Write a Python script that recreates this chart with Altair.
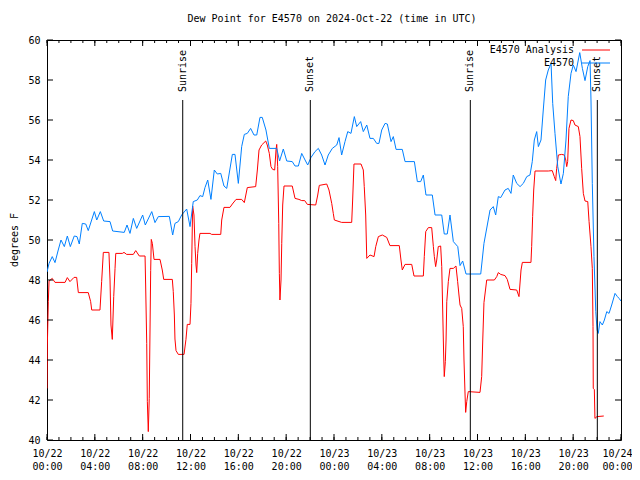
import altair as alt
import pandas as pd

# ---------------- data ----------------
title_text = "Dew Point for E4570 on 2024-Oct-22 (time in UTC)"
y_title = "degrees F"
series_names = ["E4570 Analysis", "E4570"]
series_colors = ["#ff0000", "#0080ff"]

# hours since 2024-10-22 00:00 UTC
analysis_hours = [
    0.0, 0.03, 0.11, 0.17, 0.44, 0.67, 1.51, 1.70, 1.92, 2.26,
    2.48, 2.62, 3.45, 3.65, 3.74, 4.43, 4.57, 4.71, 5.18, 5.27,
    5.35, 5.46, 5.58, 5.69, 5.75, 6.30, 6.44, 6.66, 7.22, 7.42,
    7.72, 8.20, 8.25, 8.34, 8.39, 8.47, 8.55, 8.61, 8.67, 8.72,
    8.81, 8.95, 9.45, 9.64, 9.76, 10.48, 10.56, 10.65, 10.70, 10.79,
    10.98, 11.46, 11.62, 11.73, 11.96, 12.04, 12.10, 12.18, 12.29, 12.38,
    12.46, 12.52, 12.60, 12.71, 12.79, 13.63, 13.77, 14.53, 14.61, 14.80,
    15.30, 15.50, 15.81, 16.28, 16.50, 16.75, 17.45, 17.59, 17.73, 17.95,
    18.29, 18.42, 18.59, 18.73, 18.87, 19.04, 19.15, 19.21, 19.29, 19.38,
    19.43, 19.48, 19.57, 19.63, 19.71, 19.82, 20.51, 20.74, 21.07, 21.30,
    21.55, 21.77, 22.47, 22.64, 22.77, 23.39, 23.58, 23.81, 23.94, 24.03,
    24.64, 25.48, 25.56, 25.67, 26.26, 26.45, 26.53, 26.65, 26.74, 27.01,
    27.35, 27.49, 27.71, 28.04, 28.41, 28.68, 29.46, 29.60, 29.71, 29.94,
    30.50, 30.69, 31.47, 31.55, 31.67, 31.89, 32.17, 32.31, 32.39, 32.50,
    32.59, 32.72, 32.92, 33.01, 33.09, 33.17, 33.22, 33.31, 33.37, 33.43,
    33.56, 33.70, 33.98, 34.20, 34.34, 34.45, 34.54, 34.68, 34.81, 34.87,
    34.96, 35.01, 35.10, 35.23, 36.21, 36.35, 36.44, 36.54, 36.77, 37.41,
    37.61, 37.74, 37.94, 38.30, 38.49, 38.72, 39.28, 39.47, 39.64, 39.75,
    40.47, 40.53, 40.61, 40.70, 40.81, 41.92, 42.25, 42.42, 42.54, 42.62,
    42.76, 43.04, 43.26, 43.38, 43.46, 43.54, 43.65, 43.82, 44.01, 44.15,
    44.43, 44.57, 44.71, 44.85, 44.99, 45.22, 45.33, 45.49, 45.60, 45.66,
    45.68, 45.77, 45.82, 45.99, 46.56,
]
analysis_vals = [
    42.58, 44.75, 46.92, 47.95, 48.08, 47.88, 47.88, 48.12, 47.92, 48.13,
    48.13, 47.37, 47.37, 46.92, 46.5, 46.5, 47.92, 49.38, 49.38, 48.0,
    45.75, 45.03, 47.17, 48.58, 49.33, 49.33, 49.38, 49.28, 49.28, 49.47,
    49.2, 49.2, 47.75, 44.83, 41.92, 40.42, 42.08, 45.25, 48.47, 50.03,
    49.83, 49.03, 49.03, 48.5, 48.03, 48.03, 47.42, 46.25, 45.05, 44.47,
    44.28, 44.28, 45.03, 45.78, 45.78, 46.83, 48.83, 51.7, 51.25, 49.67,
    48.75, 48.37, 49.33, 50.0, 50.33, 50.33, 50.28, 50.28, 51.0, 51.63,
    51.63, 51.8, 52.03, 52.03, 51.87, 52.62, 52.67, 53.5, 54.5, 54.75,
    54.95, 54.75, 54.33, 53.67, 53.53, 53.5, 54.5, 54.78, 53.67, 50.83,
    48.33, 47.0, 48.0, 49.83, 51.75, 52.7, 52.7, 52.08, 52.03, 51.97,
    51.97, 51.78, 51.75, 52.25, 52.73, 52.8, 52.5, 51.83, 51.33, 51.0,
    50.88, 50.88, 52.0, 53.8, 53.8, 53.5, 52.67, 51.25, 49.08, 49.25,
    49.17, 49.67, 50.17, 50.25, 50.13, 49.72, 49.72, 49.0, 48.5, 48.78,
    48.78, 48.2, 48.2, 49.17, 50.42, 50.62, 50.62, 49.67, 49.17, 48.67,
    49.0, 49.67, 49.7, 48.67, 46.5, 44.25, 43.17, 43.92, 45.0, 46.92,
    47.92, 48.58, 48.58, 48.7, 47.92, 47.25, 46.75, 46.58, 45.67, 44.0,
    42.25, 41.38, 41.92, 42.42, 42.38, 43.17, 45.0, 46.87, 48.0, 48.0,
    48.17, 48.37, 48.28, 48.22, 48.03, 47.53, 47.5, 47.17, 48.5, 48.88,
    48.88, 49.67, 51.17, 52.5, 53.45, 53.45, 53.47, 53.17, 52.97, 53.58,
    54.25, 54.28, 54.25, 54.0, 53.67, 53.92, 55.58, 56.0, 55.97, 55.75,
    55.67, 55.17, 53.58, 52.33, 51.95, 51.92, 50.92, 49.67, 48.58, 45.67,
    42.58, 42.53, 41.08, 41.17, 41.2,
]

obs_hours = [
    0.0, 0.17, 0.44, 0.67, 0.94, 1.17, 1.45, 1.70, 1.95, 2.28,
    2.51, 2.70, 2.95, 3.24, 3.45, 3.96, 4.16, 4.46, 4.74, 5.27,
    5.49, 6.46, 6.69, 6.94, 7.22, 7.50, 8.00, 8.22, 8.76, 9.03,
    9.31, 10.23, 10.51, 10.70, 10.98, 11.26, 11.68, 11.96, 12.23, 12.57,
    12.79, 13.02, 13.21, 13.44, 13.71, 13.99, 14.24, 14.53, 14.80, 15.03,
    15.50, 15.72, 16.00, 16.28, 16.50, 16.75, 17.03, 17.31, 17.54, 17.81,
    18.00, 18.31, 18.59, 19.21, 19.45, 19.76, 20.05, 20.51, 20.74, 21.02,
    21.30, 21.58, 21.80, 22.08, 22.41, 22.69, 22.97, 23.25, 23.52, 23.86,
    24.23, 24.42, 24.64, 24.92, 25.15, 25.42, 25.70, 25.90, 26.23, 26.45,
    26.74, 27.01, 27.29, 27.57, 27.76, 27.99, 28.27, 28.46, 28.77, 28.96,
    29.19, 29.71, 29.94, 30.72, 30.97, 31.25, 31.47, 31.69, 32.22, 32.45,
    33.01, 33.22, 33.47, 33.70, 33.98, 34.35, 34.54, 34.76, 35.04, 36.27,
    36.54, 37.05, 37.32, 37.52, 37.74, 37.94, 38.30, 38.57, 38.80, 38.99,
    39.28, 39.56, 39.83, 40.12, 40.39, 40.58, 40.75, 40.95, 41.09, 41.31,
    41.50, 41.70, 41.92, 42.15, 42.29, 42.48, 42.71, 42.98, 43.18, 43.40,
    43.59, 43.82, 44.01, 44.24, 44.43, 44.55, 44.77, 44.99, 45.22, 45.41,
    45.49, 45.60, 45.74, 45.89, 46.00, 46.10, 46.24, 46.44, 46.61, 46.81,
    47.00, 47.22, 47.50, 47.70, 47.84, 48.0,
]
obs_vals = [
    48.4, 48.83, 49.17, 48.87, 49.5, 50.0, 49.67, 50.2, 49.67, 50.2,
    50.17, 49.8, 50.83, 50.8, 50.47, 51.42, 51.0, 51.42, 50.95, 50.92,
    50.45, 50.38, 50.75, 50.33, 51.08, 50.58, 51.25, 50.75, 51.42, 50.87,
    51.17, 51.18, 50.25, 50.83, 50.92, 51.25, 51.55, 50.67, 51.92, 52.0,
    52.22, 52.17, 52.62, 53.0, 52.03, 53.5, 53.3, 53.33, 52.7, 52.58,
    54.28, 54.28, 52.83, 54.67, 55.28, 55.33, 55.58, 55.25, 55.25, 56.13,
    56.13, 55.5, 54.58, 54.58, 53.95, 54.55, 53.95, 53.92, 53.7, 53.7,
    54.33, 54.0, 53.75, 54.13, 54.42, 54.58, 54.25, 53.75, 54.25, 54.58,
    54.75, 55.12, 54.25, 54.92, 55.42, 55.33, 56.17, 55.67, 55.92, 55.42,
    55.75, 55.08, 55.08, 54.83, 54.83, 55.5, 55.83, 55.8, 54.92, 55.17,
    54.53, 54.53, 53.92, 53.92, 52.92, 52.92, 53.25, 52.25, 52.25, 51.25,
    51.25, 50.3, 50.3, 51.25, 49.92, 49.67, 48.72, 48.95, 48.3, 48.3,
    49.83, 51.5, 51.67, 51.25, 52.17, 52.12, 52.5, 52.58, 52.33, 53.25,
    52.83, 52.67, 52.83, 53.17, 53.25, 53.92, 55.0, 55.42, 54.67, 55.0,
    56.5, 58.0, 58.5, 58.83, 56.83, 55.33, 53.67, 52.8, 53.33, 55.0,
    57.17, 58.33, 58.75, 58.42, 59.0, 59.37, 58.58, 57.97, 58.67, 58.97,
    57.0, 52.83, 49.17, 46.42, 45.5, 45.33, 45.92, 45.75, 46.0, 46.42,
    46.33, 46.75, 47.33, 47.17, 47.08, 46.95,
]

sun_labels = ["Sunrise", "Sunset", "Sunrise", "Sunset"]
sun_hours = [11.35, 22.02, 35.40, 46.02]

x_label_hours = list(range(0, 49, 4))
x_minor_hours = list(range(0, 49, 1))
y_tick_values = list(range(40, 61, 2))

# ---------------- helpers ----------------
BASE_MS = pd.Timestamp("2024-10-22T00:00:00Z").value // 10**6


def to_ms(h):
    return int(BASE_MS + round(h * 3600000))


W, H = 574, 400
FONT = "DejaVu Sans Mono"
FS = 10
LAST_MS = to_ms(x_label_hours[-1])

xscale = alt.Scale(type="utc", domain=[to_ms(0), to_ms(48)], nice=False)
yscale = alt.Scale(domain=[40, 60], nice=False, zero=False)

# keep the final label inside the canvas: right-align it, nudged outward
x_axis = alt.Axis(
    values=[to_ms(h) for h in x_label_hours],
    labelExpr="[utcFormat(datum.value, '%m/%d'), utcFormat(datum.value, '%H:%M')]",
    ticks=False, domain=False, grid=False, title=None,
    labelFont=FONT, labelFontSize=FS, labelColor="black",
    labelPadding=8, labelLineHeight=13, labelBaseline="top",
    labelOverlap=False, labelFlush=False,
    labelAlign={"condition": {"test": f"+datum.value >= {LAST_MS}", "value": "right"},
                "value": "center"},
    labelOffset={"condition": {"test": f"+datum.value >= {LAST_MS}", "value": 11},
                 "value": 0},
)
y_axis = alt.Axis(
    values=y_tick_values, format="d",
    ticks=False, domain=False, grid=False, title=None,
    labelFont=FONT, labelFontSize=FS, labelColor="black",
    labelPadding=7, labelOverlap=False, labelFlush=False,
)


def X(field):
    return alt.X(field, type="temporal", scale=xscale, axis=x_axis)


def Y(field):
    return alt.Y(field, type="quantitative", scale=yscale, axis=y_axis)


layers = []

# data lines: analysis first, observations on top
for name, color, hrs, vals in [
    (series_names[0], series_colors[0], analysis_hours, analysis_vals),
    (series_names[1], series_colors[1], obs_hours, obs_vals),
]:
    df = pd.DataFrame({"t": [to_ms(h) for h in hrs], "v": vals, "series": name})
    layers.append(
        alt.Chart(df).mark_line(color=color, strokeWidth=1, clip=True).encode(
            x=X("t"), y=Y("v"), order=alt.Order("t:Q")
        )
    )

# sunrise / sunset markers
sun_df = pd.DataFrame({"t": [to_ms(h) for h in sun_hours], "label": sun_labels})
layers.append(
    alt.Chart(sun_df).mark_rule(color="black", strokeWidth=1).encode(
        x=X("t"), y=alt.value(60), y2=alt.value(H)
    )
)
layers.append(
    alt.Chart(sun_df).mark_text(
        angle=270, align="left", baseline="middle", font=FONT, fontSize=FS, color="black"
    ).encode(x=X("t"), y=alt.value(52), text="label:N")
)

# inward ticks on all four sides
minor_df = pd.DataFrame({"t": [to_ms(h) for h in x_minor_hours]})
major_df = pd.DataFrame({"t": [to_ms(h) for h in x_label_hours]})
for df, ln in [(minor_df, 3), (major_df, 6)]:
    layers.append(alt.Chart(df).mark_rule(color="black", strokeWidth=1).encode(
        x=X("t"), y=alt.value(H), y2=alt.value(H - ln)))
    layers.append(alt.Chart(df).mark_rule(color="black", strokeWidth=1).encode(
        x=X("t"), y=alt.value(0), y2=alt.value(ln)))
ytick_df = pd.DataFrame({"v": y_tick_values})
layers.append(alt.Chart(ytick_df).mark_rule(color="black", strokeWidth=1).encode(
    y=Y("v"), x=alt.value(0), x2=alt.value(6)))
layers.append(alt.Chart(ytick_df).mark_rule(color="black", strokeWidth=1).encode(
    y=Y("v"), x=alt.value(W), x2=alt.value(W - 6)))

# key (label then line sample, gnuplot style)
for i, (name, color) in enumerate(zip(series_names, series_colors)):
    row_y = 10 + 13 * i
    kdf = pd.DataFrame({"label": [name]})
    layers.append(alt.Chart(kdf).mark_text(
        align="right", baseline="middle", font=FONT, fontSize=FS, color="black"
    ).encode(x=alt.value(527), y=alt.value(row_y), text="label:N"))
    layers.append(alt.Chart(kdf).mark_rule(color=color, strokeWidth=1).encode(
        x=alt.value(535), x2=alt.value(563), y=alt.value(row_y)))

# title and y-axis title
layers.append(alt.Chart(pd.DataFrame({"label": [title_text]})).mark_text(
    align="center", baseline="middle", font=FONT, fontSize=FS, color="black"
).encode(x=alt.value(W / 2 - 2), y=alt.value(-21), text="label:N"))
layers.append(alt.Chart(pd.DataFrame({"label": [y_title]})).mark_text(
    align="center", baseline="middle", angle=270, font=FONT, fontSize=FS, color="black"
).encode(x=alt.value(-32), y=alt.value(200), text="label:N"))

chart = alt.layer(*layers).properties(
    width=W, height=H,
    autosize=alt.AutoSizeParams(type="none"),
    padding={"left": 39, "top": 32, "right": 11, "bottom": 30},
    background="white",
).configure_view(stroke="black", strokeWidth=1)

chart.save("out.html", embed_options={"renderer": "svg", "actions": False})
